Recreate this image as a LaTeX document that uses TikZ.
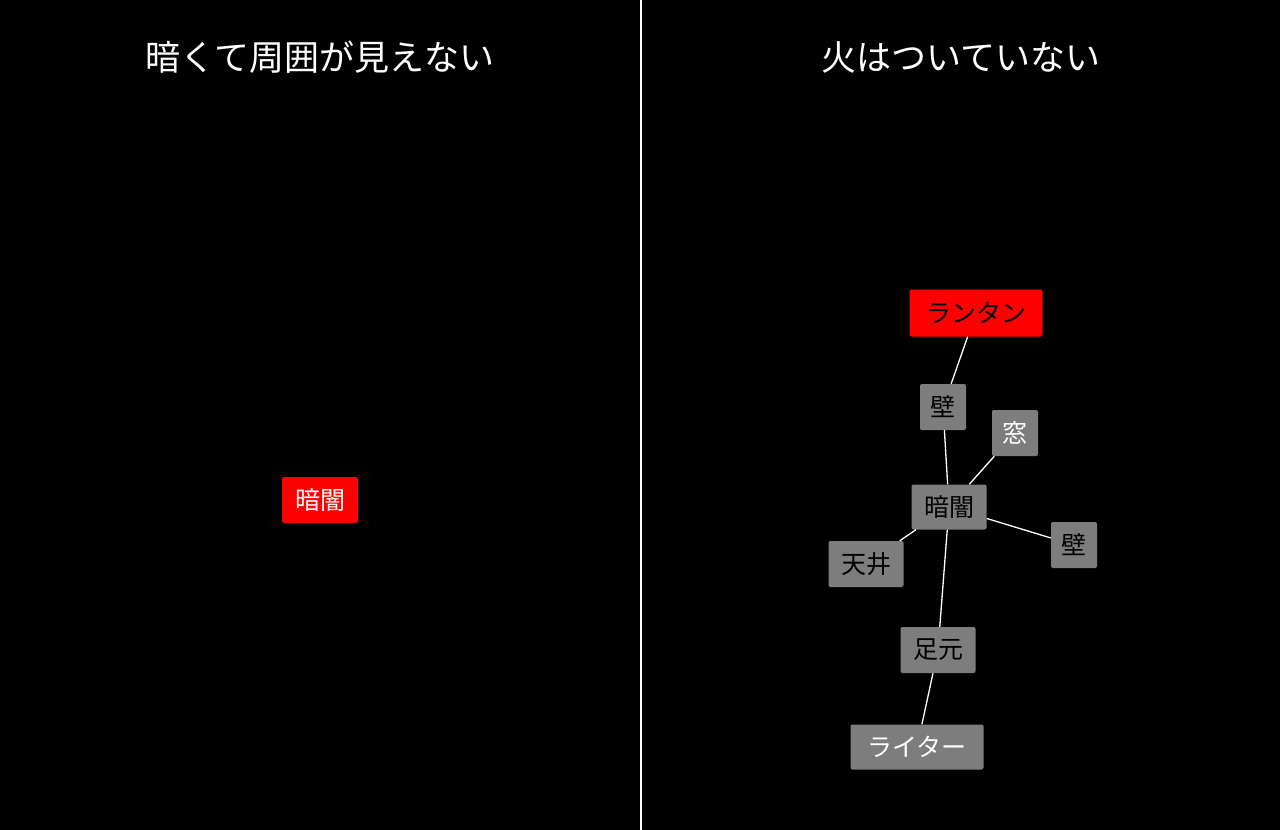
\documentclass[tikz,border=0pt]{standalone}
\usepackage{fontspec}
\newfontfamily\jp{Noto Sans CJK JP}
\begin{document}
\begin{tikzpicture}[x=1pt,y=-1pt,
 box/.style={rounded corners=2pt,minimum height=46pt,inner sep=0pt,font=\jp\fontsize{25}{25}\selectfont},
 gbox/.style={box,fill=gray!95!white,fill={rgb,255:red,125;green,125;blue,125}},
 edge/.style={draw=white,line width=1.3pt}]
\fill[black] (0,0) rectangle (1280,830);
\useasboundingbox (0,0) rectangle (1280,830);
\draw[white,line width=2pt] (641,0) -- (641,830);
\node[white,font=\jp\fontsize{35}{35}\selectfont] (t1) at (320,57) {暗くて周囲が見えない};
\node[white,font=\jp\fontsize{35}{35}\selectfont] (t2) at (961,57) {火はついていない};
\node[box,fill=red,text=white,minimum width=76pt] (a0) at (320,500) {暗闇};
\node[box,fill=red,text=black,minimum width=133pt,minimum height=47pt] (lan) at (976,313) {ランタン};
\node[gbox,text=black,minimum width=46pt] (k1) at (943,407) {壁};
\node[gbox,text=white,minimum width=46pt] (mado) at (1015,433) {窓};
\node[gbox,text=black,minimum width=75pt,minimum height=45pt] (yami) at (949,507) {暗闇};
\node[gbox,text=black,minimum width=46pt] (k2) at (1074,545) {壁};
\node[gbox,text=black,minimum width=75pt] (ten) at (866,564) {天井};
\node[gbox,text=black,minimum width=75pt] (ashi) at (938,650) {足元};
\node[gbox,text=white,minimum width=133pt,minimum height=45pt] (rai) at (917,747) {ライター};
\draw[edge] (lan) -- (k1);
\draw[edge] (k1) -- (yami);
\draw[edge] (mado) -- (yami);
\draw[edge] (yami) -- (k2);
\draw[edge] (yami) -- (ten);
\draw[edge] (yami) -- (ashi);
\draw[edge] (ashi) -- (rai);
\end{tikzpicture}
\end{document}
